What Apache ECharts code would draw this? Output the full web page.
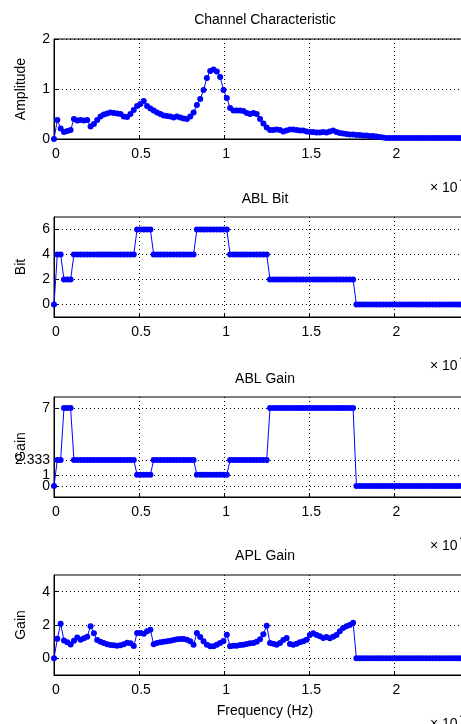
<!DOCTYPE html>
<html>
<head>
<meta charset="utf-8">
<script src="https://cdn.jsdelivr.net/npm/echarts@6/dist/echarts.min.js"></script>
<style>
  html, body { margin: 0; padding: 0; background: #fff; }
  #chart { width: 461px; height: 724px; }
</style>
</head>
<body>
<div id="chart"></div>
<script>
  // frequency bins (x 10^4 Hz), 128 tones
  const binWidth = 0.01953
  const nBins = 128

  const titles = ['Channel Characteristic', 'ABL Bit', 'ABL Gain', 'APL Gain']
  const yNames = ['Amplitude', 'Bit', 'Gain', 'Gain']
  const xTicks = [0, 0.5, 1, 1.5, 2]
  const yTicks = [[0, 1, 2], [0, 2, 4, 6], [0, 1, 2.333, 7], [0, 2, 4]]
  // labels of the ABL Gain axis; "1" sits too close to "0", so it goes on a twin axis
  const gainLabels = [0, 2.333, 7]
  const gainLabelsTwin = [1]

  const amplitude = [
    0, 0.38, 0.21, 0.14, 0.16, 0.18, 0.40, 0.37, 0.38, 0.37, 0.38, 0.25, 0.30, 0.38, 0.45, 0.49,
    0.51, 0.53, 0.52, 0.51, 0.50, 0.45, 0.44, 0.50, 0.58, 0.66, 0.70, 0.76, 0.66, 0.61, 0.57, 0.53,
    0.50, 0.47, 0.46, 0.45, 0.43, 0.45, 0.43, 0.41, 0.40, 0.45, 0.53, 0.68, 0.80, 0.98, 1.22, 1.36,
    1.39, 1.35, 1.24, 0.98, 0.82, 0.62, 0.57, 0.57, 0.57, 0.56, 0.52, 0.50, 0.52, 0.50, 0.40, 0.31,
    0.23, 0.18, 0.18, 0.19, 0.18, 0.15, 0.17, 0.19, 0.19, 0.18, 0.17, 0.17, 0.15, 0.14, 0.14, 0.13,
    0.13, 0.14, 0.13, 0.15, 0.17, 0.14, 0.12, 0.11, 0.10, 0.09, 0.09, 0.08, 0.08, 0.07, 0.07, 0.06,
    0.06, 0.05, 0.04, 0.03, 0.02, 0.02, 0.02, 0.02, 0.02, 0.02, 0.02, 0.02, 0.02, 0.02, 0.02, 0.02,
    0.02, 0.02, 0.02, 0.02, 0.02, 0.02, 0.02, 0.02, 0.02, 0.02, 0.02, 0.02, 0.02, 0.02, 0.02, 0.02
  ]

  const ablBit = [
    0, 4, 4, 2, 2, 2, 4, 4, 4, 4, 4, 4, 4, 4, 4, 4,
    4, 4, 4, 4, 4, 4, 4, 4, 4, 6, 6, 6, 6, 6, 4, 4,
    4, 4, 4, 4, 4, 4, 4, 4, 4, 4, 4, 6, 6, 6, 6, 6,
    6, 6, 6, 6, 6, 4, 4, 4, 4, 4, 4, 4, 4, 4, 4, 4,
    4, 2, 2, 2, 2, 2, 2, 2, 2, 2, 2, 2, 2, 2, 2, 2,
    2, 2, 2, 2, 2, 2, 2, 2, 2, 2, 2, 0, 0, 0, 0, 0,
    0, 0, 0, 0, 0, 0, 0, 0, 0, 0, 0, 0, 0, 0, 0, 0,
    0, 0, 0, 0, 0, 0, 0, 0, 0, 0, 0, 0, 0, 0, 0, 0
  ]

  const ablGain = [
    0, 2.333, 2.333, 7, 7, 7, 2.333, 2.333, 2.333, 2.333, 2.333, 2.333, 2.333, 2.333, 2.333, 2.333,
    2.333, 2.333, 2.333, 2.333, 2.333, 2.333, 2.333, 2.333, 2.333, 1, 1, 1, 1, 1, 2.333, 2.333,
    2.333, 2.333, 2.333, 2.333, 2.333, 2.333, 2.333, 2.333, 2.333, 2.333, 2.333, 1, 1, 1, 1, 1,
    1, 1, 1, 1, 1, 2.333, 2.333, 2.333, 2.333, 2.333, 2.333, 2.333, 2.333, 2.333, 2.333, 2.333,
    2.333, 7, 7, 7, 7, 7, 7, 7, 7, 7, 7, 7, 7, 7, 7, 7,
    7, 7, 7, 7, 7, 7, 7, 7, 7, 7, 7, 0, 0, 0, 0, 0,
    0, 0, 0, 0, 0, 0, 0, 0, 0, 0, 0, 0, 0, 0, 0, 0,
    0, 0, 0, 0, 0, 0, 0, 0, 0, 0, 0, 0, 0, 0, 0, 0
  ]

  const aplGain = [
    0, 1.17, 2.07, 1.07, 0.97, 0.83, 1.05, 1.25, 1.12, 1.20, 1.30, 1.93, 1.50, 1.10, 1.00, 0.92,
    0.84, 0.80, 0.78, 0.76, 0.78, 0.84, 0.94, 0.90, 0.74, 1.52, 1.52, 1.48, 1.62, 1.72, 0.84, 0.92,
    0.96, 1.00, 1.02, 1.06, 1.10, 1.14, 1.16, 1.16, 1.12, 1.02, 0.82, 1.52, 1.28, 1.02, 0.82, 0.72,
    0.72, 0.82, 0.92, 1.04, 1.42, 0.72, 0.76, 0.76, 0.80, 0.82, 0.86, 0.90, 0.92, 1.00, 1.14, 1.45,
    1.96, 0.92, 0.88, 0.82, 0.92, 1.10, 1.22, 0.86, 0.82, 0.88, 0.96, 1.02, 1.12, 1.40, 1.50, 1.40,
    1.32, 1.22, 1.28, 1.20, 1.30, 1.40, 1.62, 1.82, 1.92, 2.00, 2.14, 0, 0, 0, 0, 0,
    0, 0, 0, 0, 0, 0, 0, 0, 0, 0, 0, 0, 0, 0, 0, 0,
    0, 0, 0, 0, 0, 0, 0, 0, 0, 0, 0, 0, 0, 0, 0, 0
  ]

  const seriesValues = [amplitude, ablBit, ablGain, aplGain]
  const yRanges = [[0, 2], [-1, 7], [-1, 8], [-1, 5]]
  const gridTops = [39, 217, 397, 575]
  const titleTops = [13, 192, 372, 549]
  const expTops = [175, 353, 533, 711]

  const font = 'Liberation Sans, Arial, sans-serif'
  const dotted = {show: true, lineStyle: {color: '#000', type: [1, 3], width: 1}}

  const myChart = echarts.init(document.getElementById('chart'))

  const grids = gridTops.map(t => ({
    left: 54, width: 422, top: t, height: 100,
    show: true, borderColor: '#000', borderWidth: 1,
    containLabel: false, outerBoundsMode: 'none'
  }))

  const xAxes = gridTops.map((t, k) => ({
    type: 'value', gridIndex: k, min: 0, max: 2.48,
    axisLine: {onZero: false, lineStyle: {color: '#000'}},
    axisTick: {inside: true, length: 4, lineStyle: {color: '#000'}, customValues: xTicks},
    axisLabel: {
      color: '#000', fontSize: 14, fontFamily: font, margin: 8, padding: [0, 0, 0, 4],
      customValues: xTicks, hideOverlap: false, showMinLabel: true, showMaxLabel: true
    },
    splitLine: dotted,
    name: k === 3 ? 'Frequency (Hz)' : '',
    nameLocation: 'middle', nameGap: 29, nameMoveOverlap: false,
    nameTextStyle: {color: '#000', fontSize: 14, fontFamily: font}
  }))

  const yAxes = yRanges.map((r, k) => ({
    type: 'value', gridIndex: k, min: r[0], max: r[1],
    axisLine: {onZero: false, lineStyle: {color: '#000'}},
    axisTick: {inside: true, length: 4, lineStyle: {color: '#000'}, customValues: yTicks[k]},
    axisLabel: {
      color: '#000', fontSize: 14, fontFamily: font, margin: 4,
      customValues: k === 2 ? gainLabels : yTicks[k],
      hideOverlap: false, showMinLabel: true, showMaxLabel: true
    },
    splitLine: dotted,
    name: yNames[k], nameLocation: 'middle', nameGap: 26, nameMoveOverlap: false,
    nameTextStyle: {color: '#000', fontSize: 14, fontFamily: font}
  }))

  // twin axis on the ABL Gain grid, label only
  yAxes.push({
    type: 'value', gridIndex: 2, min: yRanges[2][0], max: yRanges[2][1],
    position: 'left', offset: 0,
    axisLine: {show: false}, axisTick: {show: false}, splitLine: {show: false},
    axisLabel: {
      color: '#000', fontSize: 14, fontFamily: font, margin: 4,
      customValues: gainLabelsTwin, showMinLabel: true, showMaxLabel: true
    }
  })

  const series = seriesValues.map((vals, k) => ({
    type: 'line', xAxisIndex: k, yAxisIndex: k,
    data: vals.map((v, i) => [i * binWidth, v]),
    symbol: 'circle', symbolSize: 6, showSymbol: true,
    itemStyle: {color: '#0000ff'},
    lineStyle: {color: '#0000ff', width: 1},
    animation: false
  }))

  const option = {
    backgroundColor: '#fff',
    animation: false,
    title: titles.map((t, k) => ({
      text: t, left: 265, top: titleTops[k], textAlign: 'center', padding: 0,
      textStyle: {color: '#000', fontSize: 14, fontWeight: 'normal', fontFamily: font}
    })),
    grid: grids,
    xAxis: xAxes,
    yAxis: yAxes,
    series: series,
    graphic: expTops.map(t => ({
      type: 'group', left: 430, top: t,
      children: [
        {type: 'text', x: 0, y: 2, style: {text: '× 10', fill: '#000', font: '14px ' + font}},
        {type: 'text', x: 30, y: -4, style: {text: '4', fill: '#000', font: '10px ' + font}}
      ]
    }))
  }
  myChart.setOption(option)
</script>
</body>
</html>
